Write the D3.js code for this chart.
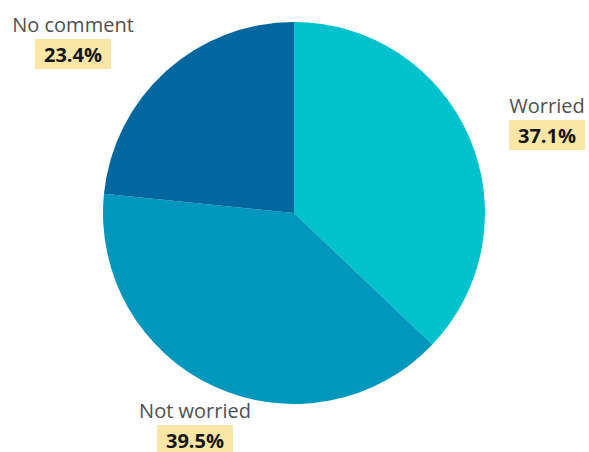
<!DOCTYPE html>
<html>
<head>
<meta charset="utf-8">
<script src="https://cdn.jsdelivr.net/npm/d3@7"></script>
<style>
  html, body { margin: 0; padding: 0; background: #fff; }
  svg { display: block; font-family: "Open Sans", "Noto Sans", sans-serif; }
</style>
</head>
<body>
<svg id="chart" width="589" height="452"></svg>
<script>
// Survey answers, in drawing order (clockwise from 12 o'clock)
const categories = ["Worried", "Not worried", "No comment"];
const values = [37.1, 39.5, 23.4];
const colors = ["#00c2cc", "#0097bc", "#02669f"];

// Where each answer's caption sits (centre x, caption baseline y)
const labelAnchors = [
  { x: 547, y: 113 },
  { x: 195, y: 418 },
  { x: 73,  y: 32 }
];

const width = 589, height = 452;
const cx = 294, cy = 213, radius = 191;

const svg = d3.select("#chart");

const data = categories.map((c, i) => ({ category: c, value: values[i], color: colors[i] }));

const pie = d3.pie().value(d => d.value).sort(null);
const arc = d3.arc().innerRadius(0).outerRadius(radius);

const g = svg.append("g").attr("transform", `translate(${cx},${cy})`);

g.selectAll("path.slice")
  .data(pie(data))
  .join("path")
  .attr("class", "slice")
  .attr("d", arc)
  .attr("fill", d => d.data.color);

// Captions: answer name, then the share in a highlighted box
const labels = svg.selectAll("g.label")
  .data(data)
  .join("g")
  .attr("class", "label")
  .attr("transform", (d, i) => `translate(${labelAnchors[i].x},${labelAnchors[i].y})`);

labels.append("text")
  .attr("text-anchor", "middle")
  .attr("font-size", 20)
  .attr("fill", "#505050")
  .text(d => d.category);

labels.each(function () {
  const lg = d3.select(this);
  const pct = lg.append("text")
    .attr("text-anchor", "middle")
    .attr("y", 30)
    .attr("font-size", 20)
    .attr("font-weight", 700)
    .attr("fill", "#151515")
    .text(d => d.value.toFixed(1) + "%");
  const bb = pct.node().getBBox();
  lg.insert("rect", "text:last-child")
    .attr("x", bb.x - 9)
    .attr("y", 7)
    .attr("width", bb.width + 18)
    .attr("height", 30)
    .attr("fill", "#fbe7a5");
});
</script>
</body>
</html>
